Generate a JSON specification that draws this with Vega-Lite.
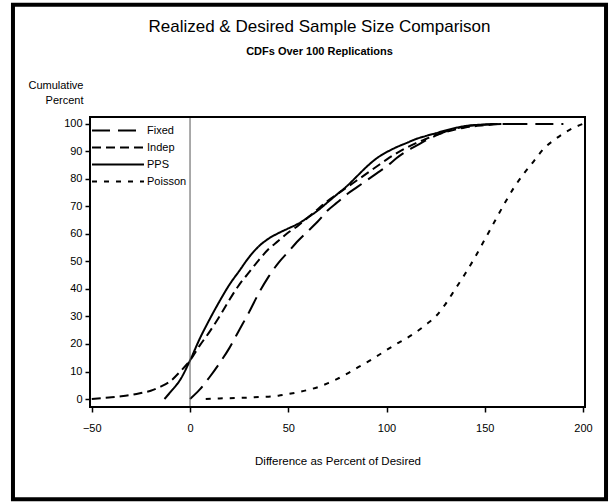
{
  "$schema": "https://vega.github.io/schema/vega-lite/v6.json",
  "width": 495,
  "height": 290,
  "padding": {"left": 10, "top": 2, "right": 0, "bottom": 0},
  "background": "white",
  "view": {"stroke": "black", "strokeWidth": 2},
  "title": {
    "text": "Realized & Desired Sample Size Comparison",
    "subtitle": "CDFs Over 100 Replications",
    "anchor": "middle",
    "font": "Liberation Sans",
    "fontSize": 17,
    "fontWeight": "normal",
    "color": "black",
    "subtitleFont": "Liberation Sans",
    "subtitleFontSize": 11,
    "subtitleFontWeight": "bold",
    "subtitleColor": "black",
    "subtitlePadding": 10,
    "offset": -55,
    "dx": -18
  },
  "config": {
    "view": {"stroke": "black", "strokeWidth": 2},
    "font": "Liberation Sans",
    "axisX": {
      "grid": false,
      "domain": false,
      "tickColor": "black",
      "tickSize": 5,
      "tickWidth": 1.5,
      "labelFontSize": 11,
      "labelColor": "black",
      "labelPadding": 10,
      "labelFlush": false,
      "labelOverlap": false,
      "titleFontSize": 11.5,
      "titleFontWeight": "normal",
      "titleColor": "black",
      "titleY": 54,
      "titleBaseline": "middle"
    },
    "axisY": {
      "titleAngle": 0,
      "titleAlign": "right",
      "titleBaseline": "top",
      "titleX": -7,
      "titleY": -38,
      "titleLineHeight": 15,
      "titleFontSize": 11,
      "titleFontWeight": "normal",
      "titleColor": "black",
      "grid": false,
      "domain": false,
      "tickColor": "black",
      "tickSize": 5,
      "tickWidth": 1.5,
      "labelFontSize": 11,
      "labelColor": "black",
      "labelPadding": 3,
      "labelOverlap": false
    }
  },
  "datasets": {
    "curves": [
      {"series": "Fixed", "diff": 0, "pct": 0},
      {"series": "Fixed", "diff": 5, "pct": 3.5},
      {"series": "Fixed", "diff": 10, "pct": 8},
      {"series": "Fixed", "diff": 15, "pct": 13},
      {"series": "Fixed", "diff": 20, "pct": 18.5},
      {"series": "Fixed", "diff": 25, "pct": 25},
      {"series": "Fixed", "diff": 30, "pct": 31.5},
      {"series": "Fixed", "diff": 35, "pct": 38.5},
      {"series": "Fixed", "diff": 40, "pct": 44.5},
      {"series": "Fixed", "diff": 45, "pct": 49.5},
      {"series": "Fixed", "diff": 50, "pct": 53.5},
      {"series": "Fixed", "diff": 55, "pct": 57.5},
      {"series": "Fixed", "diff": 60, "pct": 61},
      {"series": "Fixed", "diff": 65, "pct": 64.5},
      {"series": "Fixed", "diff": 70, "pct": 68.5},
      {"series": "Fixed", "diff": 75, "pct": 71.5},
      {"series": "Fixed", "diff": 80, "pct": 74.5},
      {"series": "Fixed", "diff": 85, "pct": 77},
      {"series": "Fixed", "diff": 90, "pct": 79.5},
      {"series": "Fixed", "diff": 95, "pct": 82},
      {"series": "Fixed", "diff": 100, "pct": 84.5},
      {"series": "Fixed", "diff": 105, "pct": 87.5},
      {"series": "Fixed", "diff": 110, "pct": 90},
      {"series": "Fixed", "diff": 115, "pct": 92},
      {"series": "Fixed", "diff": 120, "pct": 94},
      {"series": "Fixed", "diff": 125, "pct": 95.7},
      {"series": "Fixed", "diff": 130, "pct": 97.2},
      {"series": "Fixed", "diff": 140, "pct": 99},
      {"series": "Fixed", "diff": 150, "pct": 99.7},
      {"series": "Fixed", "diff": 160, "pct": 100},
      {"series": "Fixed", "diff": 190, "pct": 100},
      {"series": "Indep", "diff": -50, "pct": 0},
      {"series": "Indep", "diff": -45, "pct": 0.3},
      {"series": "Indep", "diff": -40, "pct": 0.6},
      {"series": "Indep", "diff": -35, "pct": 1},
      {"series": "Indep", "diff": -30, "pct": 1.5},
      {"series": "Indep", "diff": -25, "pct": 2.2},
      {"series": "Indep", "diff": -20, "pct": 3},
      {"series": "Indep", "diff": -15, "pct": 4.5},
      {"series": "Indep", "diff": -10, "pct": 6.5},
      {"series": "Indep", "diff": -5, "pct": 10},
      {"series": "Indep", "diff": 0, "pct": 14},
      {"series": "Indep", "diff": 5, "pct": 19.5},
      {"series": "Indep", "diff": 10, "pct": 24.5},
      {"series": "Indep", "diff": 15, "pct": 30},
      {"series": "Indep", "diff": 20, "pct": 36},
      {"series": "Indep", "diff": 25, "pct": 41.5},
      {"series": "Indep", "diff": 30, "pct": 46},
      {"series": "Indep", "diff": 35, "pct": 50.5},
      {"series": "Indep", "diff": 40, "pct": 54.5},
      {"series": "Indep", "diff": 45, "pct": 57.5},
      {"series": "Indep", "diff": 50, "pct": 60.5},
      {"series": "Indep", "diff": 55, "pct": 63},
      {"series": "Indep", "diff": 60, "pct": 66},
      {"series": "Indep", "diff": 65, "pct": 69},
      {"series": "Indep", "diff": 70, "pct": 72},
      {"series": "Indep", "diff": 75, "pct": 74.5},
      {"series": "Indep", "diff": 80, "pct": 77},
      {"series": "Indep", "diff": 85, "pct": 79.5},
      {"series": "Indep", "diff": 90, "pct": 82},
      {"series": "Indep", "diff": 95, "pct": 84.5},
      {"series": "Indep", "diff": 100, "pct": 87},
      {"series": "Indep", "diff": 105, "pct": 89.3},
      {"series": "Indep", "diff": 110, "pct": 91.3},
      {"series": "Indep", "diff": 115, "pct": 93},
      {"series": "Indep", "diff": 120, "pct": 94.5},
      {"series": "Indep", "diff": 125, "pct": 96},
      {"series": "Indep", "diff": 130, "pct": 97},
      {"series": "Indep", "diff": 140, "pct": 98.7},
      {"series": "Indep", "diff": 150, "pct": 99.5},
      {"series": "Indep", "diff": 160, "pct": 100},
      {"series": "Indep", "diff": 165, "pct": 100},
      {"series": "PPS", "diff": -13, "pct": 0},
      {"series": "PPS", "diff": -10, "pct": 2.5},
      {"series": "PPS", "diff": -5, "pct": 7},
      {"series": "PPS", "diff": 0, "pct": 14},
      {"series": "PPS", "diff": 5, "pct": 22},
      {"series": "PPS", "diff": 10, "pct": 29},
      {"series": "PPS", "diff": 15, "pct": 35.5},
      {"series": "PPS", "diff": 20, "pct": 41.5},
      {"series": "PPS", "diff": 25, "pct": 46.5},
      {"series": "PPS", "diff": 30, "pct": 51.5},
      {"series": "PPS", "diff": 35, "pct": 55.5},
      {"series": "PPS", "diff": 40, "pct": 58.3},
      {"series": "PPS", "diff": 45, "pct": 60.3},
      {"series": "PPS", "diff": 50, "pct": 62},
      {"series": "PPS", "diff": 55, "pct": 63.7},
      {"series": "PPS", "diff": 60, "pct": 66},
      {"series": "PPS", "diff": 65, "pct": 68.5},
      {"series": "PPS", "diff": 70, "pct": 71.5},
      {"series": "PPS", "diff": 75, "pct": 74.5},
      {"series": "PPS", "diff": 80, "pct": 77.5},
      {"series": "PPS", "diff": 85, "pct": 81},
      {"series": "PPS", "diff": 90, "pct": 84.5},
      {"series": "PPS", "diff": 95, "pct": 87.5},
      {"series": "PPS", "diff": 100, "pct": 89.7},
      {"series": "PPS", "diff": 105, "pct": 91.5},
      {"series": "PPS", "diff": 110, "pct": 93},
      {"series": "PPS", "diff": 115, "pct": 94.5},
      {"series": "PPS", "diff": 120, "pct": 95.6},
      {"series": "PPS", "diff": 125, "pct": 96.6},
      {"series": "PPS", "diff": 130, "pct": 97.6},
      {"series": "PPS", "diff": 140, "pct": 99.2},
      {"series": "PPS", "diff": 150, "pct": 99.8},
      {"series": "PPS", "diff": 155, "pct": 100},
      {"series": "Poisson", "diff": 8, "pct": 0},
      {"series": "Poisson", "diff": 15, "pct": 0.2},
      {"series": "Poisson", "diff": 25, "pct": 0.4},
      {"series": "Poisson", "diff": 35, "pct": 0.7},
      {"series": "Poisson", "diff": 45, "pct": 1.2},
      {"series": "Poisson", "diff": 50, "pct": 1.8},
      {"series": "Poisson", "diff": 55, "pct": 2.5},
      {"series": "Poisson", "diff": 60, "pct": 3.3},
      {"series": "Poisson", "diff": 65, "pct": 4.3},
      {"series": "Poisson", "diff": 70, "pct": 5.7},
      {"series": "Poisson", "diff": 75, "pct": 7.3},
      {"series": "Poisson", "diff": 80, "pct": 9.2},
      {"series": "Poisson", "diff": 85, "pct": 11.3},
      {"series": "Poisson", "diff": 90, "pct": 13.3},
      {"series": "Poisson", "diff": 95, "pct": 15.5},
      {"series": "Poisson", "diff": 100, "pct": 17.8},
      {"series": "Poisson", "diff": 105, "pct": 20},
      {"series": "Poisson", "diff": 110, "pct": 22},
      {"series": "Poisson", "diff": 115, "pct": 24.3},
      {"series": "Poisson", "diff": 120, "pct": 27},
      {"series": "Poisson", "diff": 125, "pct": 30},
      {"series": "Poisson", "diff": 130, "pct": 34.5},
      {"series": "Poisson", "diff": 135, "pct": 40},
      {"series": "Poisson", "diff": 140, "pct": 45.5},
      {"series": "Poisson", "diff": 145, "pct": 51.5},
      {"series": "Poisson", "diff": 150, "pct": 58},
      {"series": "Poisson", "diff": 155, "pct": 64.5},
      {"series": "Poisson", "diff": 160, "pct": 71},
      {"series": "Poisson", "diff": 165, "pct": 77},
      {"series": "Poisson", "diff": 170, "pct": 82},
      {"series": "Poisson", "diff": 175, "pct": 86.5},
      {"series": "Poisson", "diff": 180, "pct": 91},
      {"series": "Poisson", "diff": 185, "pct": 94},
      {"series": "Poisson", "diff": 190, "pct": 96.5},
      {"series": "Poisson", "diff": 195, "pct": 98.5},
      {"series": "Poisson", "diff": 200, "pct": 100}
    ]
  },
  "layer": [
    {
      "data": {"name": "curves"},
      "mark": {"type": "line", "strokeWidth": 2, "color": "black", "interpolate": "monotone"},
      "encoding": {
        "x": {
          "field": "diff",
          "type": "quantitative",
          "scale": {"domain": [-50.9, 201], "nice": false, "zero": false},
          "axis": {"title": "Difference as Percent of Desired", "values": [-50, 0, 50, 100, 150, 200]}
        },
        "y": {
          "field": "pct",
          "type": "quantitative",
          "scale": {"domain": [-2.9, 102.5], "nice": false, "zero": false},
          "axis": {"title": ["Cumulative", "Percent"], "values": [0, 10, 20, 30, 40, 50, 60, 70, 80, 90, 100]}
        },
        "strokeDash": {
          "field": "series",
          "type": "nominal",
          "scale": {
            "domain": ["Fixed", "Indep", "PPS", "Poisson"],
            "range": [[18, 8], [9, 5], [1, 0], [5, 7]]
          },
          "legend": {
            "title": null,
            "orient": "none",
            "legendX": 1,
            "legendY": 5,
            "padding": 0,
            "symbolType": "stroke",
            "symbolSize": 2700,
            "symbolStrokeWidth": 2,
            "symbolStrokeColor": "black",
            "clipHeight": 17,
            "rowPadding": 0,
            "labelFontSize": 11,
            "labelColor": "black",
            "labelOffset": 2
          }
        }
      }
    },
    {
      "data": {"values": [{}]},
      "mark": {"type": "rule", "color": "#555555", "strokeWidth": 1},
      "encoding": {"x": {"datum": 0, "type": "quantitative", "axis": {"title": "Difference as Percent of Desired", "values": [-50, 0, 50, 100, 150, 200]}}}
    },
    {
      "data": {"values": [{}]},
      "mark": {"type": "rect", "filled": false, "stroke": "black", "strokeWidth": 2},
      "encoding": {
        "x": {"datum": -50.9, "type": "quantitative", "axis": {"title": "Difference as Percent of Desired", "values": [-50, 0, 50, 100, 150, 200]}},
        "x2": {"datum": 201},
        "y": {"datum": 102.5, "type": "quantitative", "axis": {"title": ["Cumulative", "Percent"], "values": [0, 10, 20, 30, 40, 50, 60, 70, 80, 90, 100]}},
        "y2": {"datum": -2.9}
      }
    },
    {
      "data": {"values": [{}]},
      "mark": {"type": "rect", "filled": false, "stroke": "black", "strokeWidth": 4, "clip": false},
      "encoding": {
        "x": {"datum": -90.1, "type": "quantitative", "axis": {"title": "Difference as Percent of Desired", "values": [-50, 0, 50, 100, 150, 200]}},
        "x2": {"datum": 211.7},
        "y": {"datum": 143.3, "type": "quantitative", "axis": {"title": ["Cumulative", "Percent"], "values": [0, 10, 20, 30, 40, 50, 60, 70, 80, 90, 100]}},
        "y2": {"datum": -36.4}
      }
    }
  ]
}
